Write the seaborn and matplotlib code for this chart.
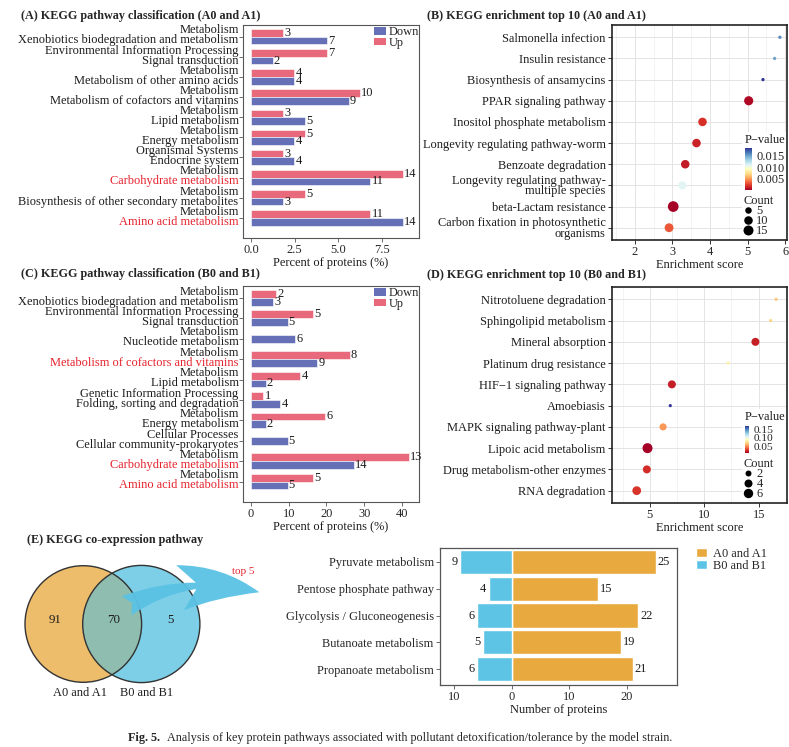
import numpy as np
import pandas as pd
import matplotlib
matplotlib.use("Agg")
import matplotlib.pyplot as plt
import matplotlib.colors as mcolors
from matplotlib.patches import Circle, Patch, Rectangle, FancyArrowPatch
from matplotlib.lines import Line2D
from matplotlib.ticker import FuncFormatter, MultipleLocator
import seaborn as sns

# ======================= DATA =======================
# (A) KEGG pathway classification (A0 and A1)
a_level1 = ["Metabolism", "Environmental Information Processing", "Metabolism", "Metabolism",
            "Metabolism", "Metabolism", "Organismal Systems", "Metabolism", "Metabolism", "Metabolism"]
a_level2 = ["Xenobiotics biodegradation and metabolism", "Signal transduction",
            "Metabolism of other amino acids", "Metabolism of cofactors and vitamins",
            "Lipid metabolism", "Energy metabolism", "Endocrine system",
            "Carbohydrate metabolism", "Biosynthesis of other secondary metabolites",
            "Amino acid metabolism"]
a_highlight = [False, False, False, False, False, False, False, True, False, True]
a_up_count = [3, 7, 4, 10, 3, 5, 3, 14, 5, 11]
a_down_count = [7, 2, 4, 9, 5, 4, 4, 11, 3, 14]
a_up_pct = [1.86, 4.35, 2.48, 6.21, 1.86, 3.11, 1.86, 8.70, 3.11, 6.83]
a_down_pct = [4.35, 1.24, 2.48, 5.59, 3.11, 2.48, 2.48, 6.83, 1.86, 8.70]

# (C) KEGG pathway classification (B0 and B1)
c_level1 = ["Metabolism", "Environmental Information Processing", "Metabolism", "Metabolism",
            "Metabolism", "Genetic Information Processing", "Metabolism", "Cellular Processes",
            "Metabolism", "Metabolism"]
c_level2 = ["Xenobiotics biodegradation and metabolism", "Signal transduction",
            "Nucleotide metabolism", "Metabolism of cofactors and vitamins", "Lipid metabolism",
            "Folding, sorting and degradation", "Energy metabolism",
            "Cellular community-prokaryotes", "Carbohydrate metabolism", "Amino acid metabolism"]
c_highlight = [False, False, False, True, False, False, False, False, True, True]
c_up_count = [2, 5, None, 8, 4, 1, 6, None, 13, 5]
c_down_count = [3, 5, 6, 9, 2, 4, 2, 5, 14, 5]
c_up_pct = [6.6, 16.4, np.nan, 26.2, 13.1, 3.3, 19.7, np.nan, 41.8, 16.4]
c_down_pct = [5.8, 9.7, 11.7, 17.5, 3.9, 7.8, 3.9, 9.7, 27.2, 9.7]

# (B) KEGG enrichment top 10 (A0 and A1)
b_pathway = ["Salmonella infection", "Insulin resistance", "Biosynthesis of ansamycins",
             "PPAR signaling pathway", "Inositol phosphate metabolism",
             "Longevity regulating pathway-worm", "Benzoate degradation",
             "Longevity regulating pathway-\nmultiple species", "beta-Lactam resistance",
             "Carbon fixation in photosynthetic\norganisms"]
b_score = [5.86, 5.72, 5.41, 5.03, 3.80, 3.64, 3.34, 3.26, 3.02, 2.91]
b_pvalue = [0.0158, 0.0150, 0.0184, 0.0006, 0.0020, 0.0015, 0.0013, 0.0110, 0.0002, 0.0032]
b_count = [2, 2, 2, 12, 10, 10, 10, 9, 18, 11]

# (D) KEGG enrichment top 10 (B0 and B1)
d_pathway = ["Nitrotoluene degradation", "Sphingolipid metabolism", "Mineral absorption",
             "Platinum drug resistance", "HIF\u22121 signaling pathway", "Amoebiasis",
             "MAPK signaling pathway-plant", "Lipoic acid metabolism",
             "Drug metabolism-other enzymes", "RNA degradation"]
d_score = [16.6, 16.1, 14.7, 12.2, 7.03, 6.88, 6.22, 4.79, 4.73, 3.80]
d_pvalue = [0.066, 0.070, 0.021, 0.082, 0.020, 0.170, 0.053, 0.010, 0.025, 0.027]
d_count = [1, 1, 4, 1, 4, 1, 3, 7, 4, 5]

# (E) KEGG co-expression pathway
venn_only_a, venn_both, venn_only_b = 91, 70, 5
e_pathway = ["Pyruvate metabolism", "Pentose phosphate pathway", "Glycolysis / Gluconeogenesis",
             "Butanoate metabolism", "Propanoate metabolism"]
e_a_count = [25, 15, 22, 19, 21]
e_b_count = [9, 4, 6, 5, 6]

# ======================= STYLE =======================
sns.set_theme(style="white")
plt.rcParams["font.family"] = ["Liberation Serif", "DejaVu Serif"]
plt.rcParams["axes.unicode_minus"] = True

W, H = 789, 747
fig = plt.figure(figsize=(W / 100, H / 100), dpi=100)
fig.patch.set_facecolor("white")

def px_axes(l, t, r, b):
    return fig.add_axes([l / W, 1 - b / H, (r - l) / W, (b - t) / H])

def ftext(x, y, s, **kw):
    return fig.text(x / W, 1 - y / H, s, **kw)

PINK = "#E8697C"
BLUE = "#6670B6"
RED_TXT = "#E5222C"
DARK = "#1c1c1c"
FS = 8.9
CMAP = "RdYlBu"

# ======================= A / C =======================
def class_panel(ax, lvl1, lvl2, hl, up_pct, down_pct, up_cnt, down_cnt, xlim, xticks, xticklabels):
    n = len(lvl2)
    both, single = [], []
    for p, u, d in zip(lvl2, up_pct, down_pct):
        if np.isnan(u):
            single.append({"path": p, "dir": "Down", "pct": d})
        else:
            both.append({"path": p, "dir": "Up", "pct": u})
            both.append({"path": p, "dir": "Down", "pct": d})
    sns.barplot(data=pd.DataFrame(both), x="pct", y="path", hue="dir", hue_order=["Up", "Down"],
                order=lvl2, palette={"Up": PINK, "Down": BLUE}, orient="h", width=0.76,
                saturation=1, edgecolor="white", linewidth=0.4, legend=False, ax=ax, errorbar=None)
    if single:
        sns.barplot(data=pd.DataFrame(single), x="pct", y="path", order=lvl2, color=BLUE,
                    orient="h", width=0.38, saturation=1, edgecolor="white", linewidth=0.4,
                    ax=ax, errorbar=None)
    for i in range(n):
        if not np.isnan(up_pct[i]):
            ax.annotate(str(up_cnt[i]), xy=(up_pct[i], i - 0.19), xytext=(0.8, 0),
                        textcoords="offset points", ha="left", va="center", fontsize=FS, color=DARK)
            yd = i + 0.19
        else:
            yd = i
        ax.annotate(str(down_cnt[i]), xy=(down_pct[i], yd), xytext=(0.8, 0),
                    textcoords="offset points", ha="left", va="center", fontsize=FS, color=DARK)
    ax.set_ylim(n - 1 + 1.0, -0.58)
    ax.set_xlim(*xlim)
    ax.set_yticks(range(n))
    ax.set_yticklabels([""] * n)
    ax.set_ylabel("")
    ax.set_xticks(xticks)
    ax.set_xticklabels(xticklabels)
    for i in range(n):
        ax.annotate(lvl1[i], xy=(0, i), xycoords=("axes fraction", "data"), xytext=(-3.2, 2.3),
                    textcoords="offset points", ha="right", va="baseline", fontsize=FS, color=DARK)
        ax.annotate(lvl2[i], xy=(0, i), xycoords=("axes fraction", "data"), xytext=(-3.2, -4.9),
                    textcoords="offset points", ha="right", va="baseline", fontsize=FS,
                    color=RED_TXT if hl[i] else DARK)
    for s in ax.spines.values():
        s.set_visible(True)
        s.set_color("#555555")
        s.set_linewidth(0.8)
    ax.tick_params(axis="both", which="major", direction="out", length=3, width=0.6,
                   color="#555555", labelsize=FS, pad=1.5, left=True, bottom=True)
    ax.set_xlabel("Percent of proteins (%)", fontsize=FS, labelpad=0.5, color=DARK)
    handles = [Patch(facecolor=BLUE, edgecolor="none"), Patch(facecolor=PINK, edgecolor="none")]
    ax.legend(handles, ["Down", "Up"], loc="upper left", bbox_to_anchor=(0.735, 1.0),
              frameon=False, fontsize=FS, handlelength=1.0, handleheight=0.55,
              handletextpad=0.2, labelspacing=-0.1, borderpad=0.1, borderaxespad=0)

axA = px_axes(243, 25, 419, 238)
class_panel(axA, a_level1, a_level2, a_highlight, a_up_pct, a_down_pct, a_up_count, a_down_count,
            (-0.45, 9.6), [0, 2.5, 5, 7.5], ["0.0", "2.5", "5.0", "7.5"])

axC = px_axes(243, 286, 419, 502)
class_panel(axC, c_level1, c_level2, c_highlight, c_up_pct, c_down_pct, c_up_count, c_down_count,
            (-2.1, 44.5), [0, 10, 20, 30, 40], ["0", "10", "20", "30", "40"])

# ======================= B / D =======================
def dot_panel(ax, paths, score, pval, count, xlim, major, minor, pnorm, cmin, cmax, dmin, dmax,
              breaks, cbar_px, cbar_ticks, cbar_labels, cbar_fs, ptitle_px, count_anchor, bg_px):
    def size_of(c):
        d_px = dmin + (dmax - dmin) * np.sqrt((c - cmin) / (cmax - cmin))
        return (d_px * 0.72) ** 2
    df = pd.DataFrame({"path": paths, "score": score, "pval": pval, "count": count})
    sizes = {c: size_of(c) for c in sorted(set(count))}
    norm = mcolors.Normalize(*pnorm)
    sns.scatterplot(data=df, x="score", y="path", hue="pval", hue_norm=norm, palette=CMAP,
                    size="count", sizes=sizes, legend=False, ax=ax, edgecolor="none",
                    linewidth=0, zorder=4)
    ax.set_ylim(len(paths) - 1 + 0.58, -0.58)
    ax.set_xlim(*xlim)
    ax.xaxis.set_major_locator(MultipleLocator(major))
    ax.xaxis.set_minor_locator(MultipleLocator(minor))
    ax.set_axisbelow(True)
    ax.grid(True, which="major", color="#E4E4E4", lw=0.7)
    ax.grid(True, which="minor", axis="x", color="#EFEFEF", lw=0.5)
    ax.set_ylabel("")
    ax.set_xlabel("Enrichment score", fontsize=FS, labelpad=0.5, color=DARK)
    for s in ax.spines.values():
        s.set_visible(True)
        s.set_color("#222222")
        s.set_linewidth(1.2)
    ax.tick_params(axis="both", which="major", direction="out", length=3, width=0.7,
                   color="#333333", labelsize=FS, pad=1.5, left=True, bottom=True)
    ax.tick_params(axis="x", which="minor", length=0)
    for t in ax.get_yticklabels():
        t.set_linespacing(0.82)
        t.set_color(DARK)
    l, t, r, b = bg_px
    ax.add_patch(Rectangle((l / W, 1 - b / H), (r - l) / W, (b - t) / H, transform=fig.transFigure,
                           facecolor="white", edgecolor="none", zorder=3))
    cax = px_axes(*cbar_px)
    sm = plt.cm.ScalarMappable(norm=norm, cmap=CMAP)
    cb = fig.colorbar(sm, cax=cax, ticks=cbar_ticks)
    cb.outline.set_visible(False)
    cb.ax.set_yticklabels(cbar_labels)
    cb.ax.tick_params(length=2, width=0.6, color="white", labelsize=cbar_fs, pad=1)
    ftext(ptitle_px[0], ptitle_px[1], "P\u2212value", fontsize=FS, va="center", ha="left", color=DARK)
    handles = [Line2D([], [], ls="", marker="o", color="black", markeredgewidth=0,
                      markersize=np.sqrt(size_of(b_))) for b_ in breaks]
    ax.legend(handles, [str(b_) for b_ in breaks], title="Count", loc="upper left",
              bbox_to_anchor=count_anchor, frameon=False, fontsize=FS, title_fontsize=FS,
              handlelength=0.7, handletextpad=0.3, labelspacing=-0.15, borderpad=0,
              borderaxespad=0, alignment="left")

axB = px_axes(612, 25, 787, 240)
dot_panel(axB, b_pathway, b_score, b_pvalue, b_count, (1.39, 6.05), 1, 0.5, (0.0002, 0.0184),
          2, 18, 3.3, 10.7, [5, 10, 15], (745, 148, 752, 190), [0.005, 0.010, 0.015],
          ["0.005", "0.010", "0.015"], FS, (745, 140), ((744 - 612) / 175, (240 - 195) / 215),
          (742, 132, 786, 239))

axD = px_axes(612, 287, 787, 503)
dot_panel(axD, d_pathway, d_score, d_pvalue, d_count, (1.53, 17.6), 5, 2.5, (0.010, 0.170),
          1, 7, 3.2, 10.0, [2, 4, 6], (745, 426, 749, 453), [0.05, 0.10, 0.15],
          ["0.05", "0.10", "0.15"], 8.2, (745, 417), ((744 - 612) / 175, (503 - 458) / 216),
          (742, 409, 786, 502))

# ======================= E: Venn =======================
axV = px_axes(0, 525, 300, 705)
axV.set_xlim(0, 300)
axV.set_ylim(705, 525)
axV.axis("off")
V_OR = "#EDBD6C"
V_BL = "#7CCFE7"
V_MID = "#8FBEB0"
cl = Circle((83.3, 624), 58.3, facecolor=V_OR, edgecolor="none")
cr = Circle((141.3, 624), 58.6, facecolor=V_BL, edgecolor="none")
axV.add_patch(cl)
axV.add_patch(cr)
cm = Circle((141.3, 624), 58.6, facecolor=V_MID, edgecolor="none")
axV.add_patch(cm)
cm.set_clip_path(cl)
axV.add_patch(Circle((83.3, 624), 58.3, fill=False, edgecolor="#333333", lw=1.0))
axV.add_patch(Circle((141.3, 624), 58.6, fill=False, edgecolor="#333333", lw=1.0))
axV.text(55, 620, str(venn_only_a), ha="center", va="center", fontsize=9.3, color=DARK)
axV.text(113.3, 620, str(venn_both), ha="center", va="center", fontsize=9.3, color=DARK)
axV.text(170, 620, str(venn_only_b), ha="center", va="center", fontsize=9.3, color=DARK)
axV.text(80, 693, "A0 and A1", ha="center", va="center", fontsize=FS, color=DARK)
axV.text(146.7, 693, "B0 and B1", ha="center", va="center", fontsize=FS, color=DARK)
arrow = FancyArrowPatch((124, 607), (262, 593), connectionstyle="arc3,rad=-0.2",
                        arrowstyle="fancy,head_length=2.6,head_width=1.5,tail_width=0.7",
                        mutation_scale=22, facecolor="#5BC2E4", edgecolor="none", alpha=0.95)
axV.add_patch(arrow)
axV.text(243, 571, "top 5", ha="center", va="center", fontsize=8, color=RED_TXT, zorder=6)

# ======================= E: bars =======================
E_OR = "#E8AA3E"
E_BL = "#5EC4E5"
axE = px_axes(440, 548, 677, 685)
df_e = pd.DataFrame({"path": e_pathway * 2,
                     "group": ["A0 and A1"] * len(e_pathway) + ["B0 and B1"] * len(e_pathway),
                     "value": e_a_count + [-v for v in e_b_count]})
sns.barplot(data=df_e, x="value", y="path", hue="group", order=e_pathway, dodge=False,
            palette={"A0 and A1": E_OR, "B0 and B1": E_BL}, orient="h", width=0.9,
            saturation=1, legend=False, ax=axE, errorbar=None)
for i in range(len(e_pathway)):
    axE.annotate(str(e_a_count[i]), xy=(e_a_count[i], i), xytext=(1.5, 0), textcoords="offset points",
                 ha="left", va="center", fontsize=FS, color=DARK)
    axE.annotate(str(e_b_count[i]), xy=(-e_b_count[i], i), xytext=(-2, 0), textcoords="offset points",
                 ha="right", va="center", fontsize=FS, color=DARK)
axE.set_xlim(-12.5, 28.7)
axE.set_ylim(len(e_pathway) - 1 + 0.59, -0.52)
axE.set_xticks([-10, 0, 10, 20])
axE.xaxis.set_major_formatter(FuncFormatter(lambda v, p: f"{abs(v):.0f}"))
axE.set_ylabel("")
axE.set_xlabel("Number of proteins", fontsize=FS, labelpad=0.5, color=DARK)
for s in axE.spines.values():
    s.set_visible(True)
    s.set_color("#555555")
    s.set_linewidth(0.9)
axE.tick_params(axis="both", direction="out", length=3, width=0.6, color="#555555",
                labelsize=FS, pad=1.5, left=True, bottom=True)
axE.legend([Patch(facecolor=E_OR), Patch(facecolor=E_BL)], ["A0 and A1", "B0 and B1"],
           loc="upper left", bbox_to_anchor=(1.08, 1.0), frameon=False, fontsize=FS,
           handlelength=0.9, handleheight=0.8, handletextpad=0.5, labelspacing=0.0,
           borderpad=0, borderaxespad=0)

# ======================= titles / caption =======================
TFS = 8.7
ftext(21, 16, "(A) KEGG pathway classification (A0 and A1)", fontsize=TFS, fontweight="bold", va="center")
ftext(427, 16, "(B) KEGG enrichment top 10 (A0 and A1)", fontsize=TFS, fontweight="bold", va="center")
ftext(21, 274, "(C) KEGG pathway classification (B0 and B1)", fontsize=TFS, fontweight="bold", va="center")
ftext(427, 275, "(D) KEGG enrichment top 10 (B0 and B1)", fontsize=TFS, fontweight="bold", va="center")
ftext(27, 540, "(E) KEGG co-expression pathway", fontsize=TFS, fontweight="bold", va="center")
ftext(128, 738, "Fig. 5.", fontsize=8.7, fontweight="bold", va="center", ha="left")
ftext(167, 738, "Analysis of key protein pathways associated with pollutant detoxification/tolerance by the model strain.",
      fontsize=8.7, va="center", ha="left")

fig.savefig("out.png", dpi=100, facecolor="white")
